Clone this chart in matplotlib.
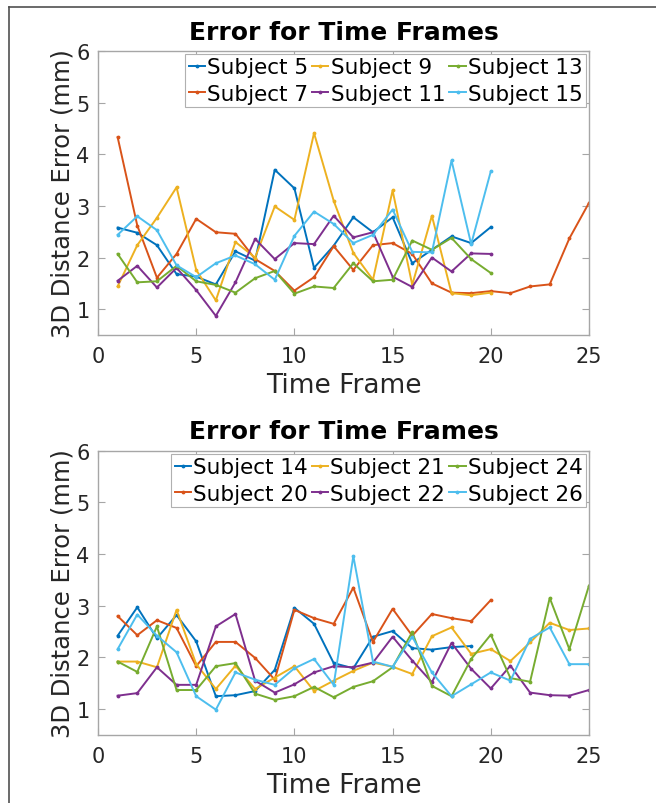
import matplotlib
matplotlib.use("Agg")
import matplotlib.pyplot as plt
from matplotlib.lines import Line2D

# ---------------- data ----------------
top_labels = ["Subject 5", "Subject 7", "Subject 9", "Subject 11", "Subject 13", "Subject 15"]
s5 = [2.58, 2.48, 2.24, 1.68, 1.63, 1.48, 2.12, 1.94, 3.70, 3.34, 1.80, 2.23, 2.78, 2.49, 2.78, 1.89, 2.15, 2.41, 2.28, 2.59]
s7 = [4.33, 2.62, 1.61, 2.07, 2.75, 2.49, 2.46, 1.97, 1.74, 1.36, 1.62, 2.22, 1.76, 2.24, 2.28, 2.07, 1.50, 1.32, 1.31, 1.35,
      1.31, 1.44, 1.48, 2.37, 3.06]
s9 = [1.44, 2.24, 2.77, 3.36, 1.76, 1.17, 2.30, 2.00, 2.99, 2.73, 4.41, 3.10, 2.09, 1.57, 3.30, 1.47, 2.81, 1.31, 1.27, 1.32]
s11 = [1.55, 1.84, 1.42, 1.80, 1.37, 0.87, 1.52, 2.36, 1.97, 2.28, 2.26, 2.81, 2.39, 2.49, 1.63, 1.43, 2.00, 1.73, 2.08, 2.07]
s13 = [2.07, 1.52, 1.54, 1.84, 1.54, 1.47, 1.32, 1.60, 1.74, 1.30, 1.44, 1.41, 1.89, 1.54, 1.57, 2.33, 2.15, 2.38, 1.97, 1.70]
s15 = [2.44, 2.80, 2.53, 1.85, 1.62, 1.89, 2.04, 1.87, 1.57, 2.42, 2.89, 2.65, 2.28, 2.44, 2.93, 2.11, 2.10, 3.88, 2.26, 3.67]
top_series = [s5, s7, s9, s11, s13, s15]

bottom_labels = ["Subject 14", "Subject 20", "Subject 21", "Subject 22", "Subject 24", "Subject 26"]
s14 = [2.42, 2.97, 2.37, 2.82, 2.31, 1.25, 1.27, 1.35, 1.76, 2.96, 2.65, 1.89, 1.79, 2.40, 2.51, 2.18, 2.15, 2.20, 2.22]
s20 = [2.80, 2.43, 2.72, 2.57, 1.83, 2.30, 2.30, 1.99, 1.57, 2.92, 2.76, 2.65, 3.35, 2.30, 2.94, 2.42, 2.84, 2.76, 2.70, 3.11]
s21 = [1.92, 1.92, 1.81, 2.92, 1.87, 1.39, 1.84, 1.39, 1.61, 1.83, 1.35, 1.55, 1.74, 1.90, 1.82, 1.68, 2.41, 2.58, 2.07, 2.16,
       1.93, 2.29, 2.67, 2.53, 2.56]
s22 = [1.26, 1.31, 1.81, 1.47, 1.47, 2.60, 2.84, 1.55, 1.32, 1.48, 1.71, 1.83, 1.81, 1.90, 2.40, 1.94, 1.52, 2.28, 1.78, 1.40,
       1.84, 1.32, 1.27, 1.26, 1.37]
s24 = [1.92, 1.72, 2.60, 1.37, 1.37, 1.83, 1.89, 1.30, 1.18, 1.25, 1.43, 1.23, 1.43, 1.54, 1.81, 2.49, 1.45, 1.25, 1.97, 2.44,
       1.60, 1.53, 3.15, 2.16, 3.39]
s26 = [2.16, 2.83, 2.42, 2.10, 1.25, 0.99, 1.71, 1.57, 1.47, 1.79, 1.97, 1.47, 3.96, 1.92, 1.82, 2.40, 1.71, 1.25, 1.48, 1.71,
       1.55, 2.36, 2.58, 1.87, 1.87]
bottom_series = [s14, s20, s21, s22, s24, s26]

title = "Error for Time Frames"
xlabel = "Time Frame"
ylabel = "3D Distance Error (mm)"
xticks = [0, 5, 10, 15, 20, 25]
yticks = [1, 2, 3, 4, 5, 6]

colors = ["#0072BD", "#D95319", "#EDB120", "#7E2F8E", "#77AC30", "#4DBEEE"]

# ---------------- figure ----------------
W, H = 656, 804
fig = plt.figure(figsize=(W / 100, H / 100), dpi=100)
fig.patch.set_facecolor("white")

spine_col = "#a6a6a6"
text_col = "#262626"


def make_axes(rect, series, labels):
    ax = fig.add_axes(rect)
    for vals, lab, c in zip(series, labels, colors):
        x = list(range(1, len(vals) + 1))
        ax.plot(x, vals, color=c, lw=1.4, marker=".", ms=3.5, label=lab)
    ax.set_xlim(0, 25)
    ax.set_ylim(0.5, 6)
    ax.set_xticks(xticks)
    ax.set_yticks(yticks)
    ax.tick_params(direction="in", length=5, width=0.8, color=spine_col,
                   labelsize=15, labelcolor=text_col, top=True, right=True)
    ax.tick_params(axis="x", pad=8)
    ax.tick_params(axis="y", pad=6)
    for s in ax.spines.values():
        s.set_color(spine_col)
        s.set_linewidth(1.0)
    ax.set_title(title, fontsize=18, fontweight="bold", color="black", pad=9)
    ax.set_xlabel(xlabel, fontsize=19, color=text_col, labelpad=4)
    ax.set_ylabel(ylabel, fontsize=17.5, color=text_col, labelpad=1)
    leg = ax.legend(loc="upper right", ncol=3, fontsize=15.5, handlelength=0.75,
                    handletextpad=0.1, columnspacing=0.2, labelspacing=0.3,
                    borderpad=0.15, borderaxespad=0.15, fancybox=False, framealpha=1)
    leg.get_frame().set_edgecolor("#b0b0b0")
    leg.get_frame().set_linewidth(0.8)
    for t in leg.get_texts():
        t.set_color("black")
    return ax


make_axes([98 / W, 1 - 336 / H, 491 / W, 284 / H], top_series, top_labels)
make_axes([98 / W, 1 - 736 / H, 491 / W, 284.4 / H], bottom_series, bottom_labels)

# outer frame lines (partial border of the original picture)
fig.add_artist(Line2D([9 / W, 9 / W], [0, 1 - 8 / H], transform=fig.transFigure,
                      color="#505050", lw=1.2))
fig.add_artist(Line2D([9 / W, 1], [1 - 8 / H, 1 - 8 / H], transform=fig.transFigure,
                      color="#505050", lw=1.2))

fig.savefig("out.png", dpi=100, facecolor="white")
